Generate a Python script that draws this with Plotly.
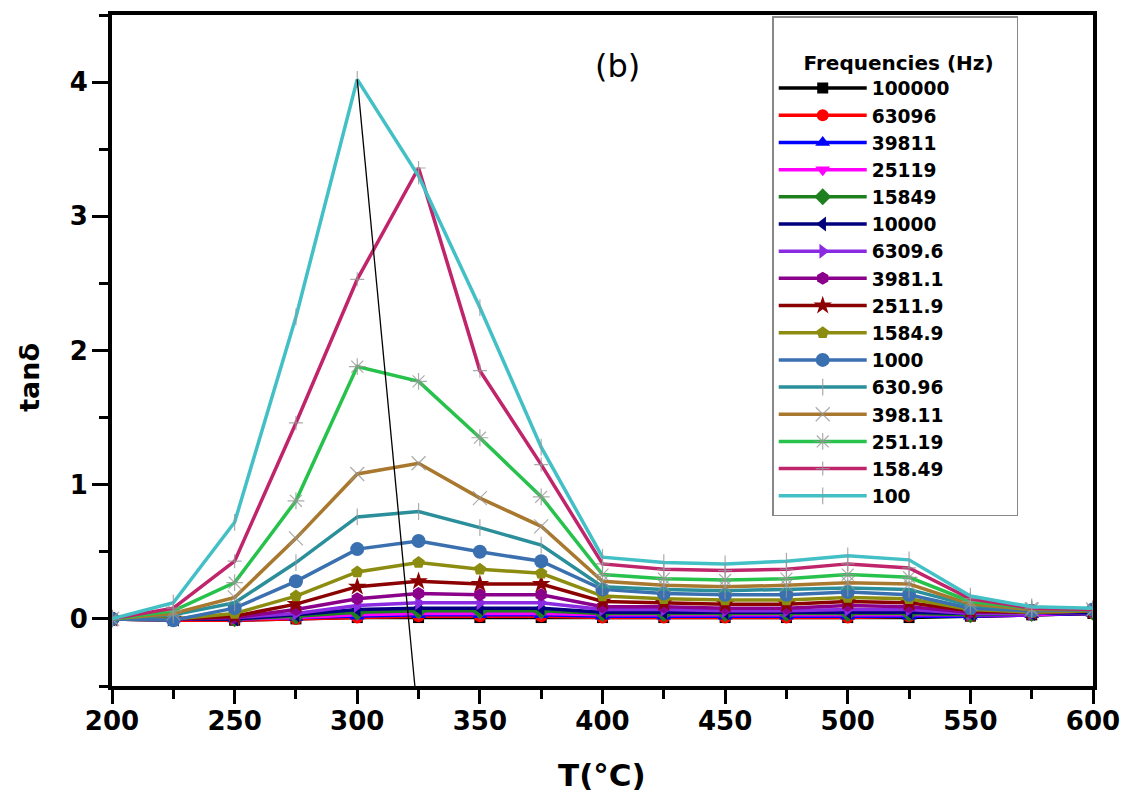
import plotly.graph_objects as go

temps = [200, 225, 250, 275, 300, 325, 350, 375, 400, 425, 450, 475, 500, 525, 550, 575, 600]

freq_labels = ["100000", "63096", "39811", "25119", "15849", "10000", "6309.6", "3981.1",
               "2511.9", "1584.9", "1000", "630.96", "398.11", "251.19", "158.49", "100"]

f100000 = [0, -0.01, -0.01, 0.0, 0.01, 0.01, 0.01, 0.01, 0.01, 0.01, 0.01, 0.01, 0.01, 0.01, 0.02, 0.03, 0.04]
f63096 = [0, -0.01, -0.01, 0.0, 0.01, 0.02, 0.02, 0.02, 0.01, 0.01, 0.01, 0.01, 0.01, 0.02, 0.02, 0.03, 0.04]
f39811 = [0, 0.0, 0.0, 0.01, 0.02, 0.03, 0.03, 0.03, 0.02, 0.02, 0.02, 0.02, 0.02, 0.02, 0.02, 0.03, 0.04]
f25119 = [0, 0.0, 0.0, 0.01, 0.03, 0.04, 0.04, 0.04, 0.03, 0.03, 0.03, 0.03, 0.03, 0.03, 0.03, 0.03, 0.05]
f15849 = [0, 0.0, 0.0, 0.02, 0.05, 0.06, 0.06, 0.06, 0.04, 0.04, 0.04, 0.04, 0.04, 0.04, 0.03, 0.04, 0.05]
f10000 = [0, 0.0, 0.0, 0.03, 0.07, 0.08, 0.08, 0.08, 0.05, 0.05, 0.05, 0.05, 0.05, 0.05, 0.04, 0.04, 0.05]
f6309 = [0, 0.0, 0.01, 0.04, 0.10, 0.12, 0.12, 0.12, 0.07, 0.07, 0.06, 0.06, 0.07, 0.07, 0.04, 0.04, 0.06]
f3981 = [0, 0.0, 0.01, 0.07, 0.15, 0.19, 0.18, 0.18, 0.09, 0.09, 0.08, 0.08, 0.10, 0.09, 0.05, 0.05, 0.06]
f2511 = [0, 0.0, 0.02, 0.11, 0.24, 0.28, 0.26, 0.26, 0.13, 0.12, 0.11, 0.11, 0.13, 0.12, 0.06, 0.05, 0.06]
f1584 = [0, 0.0, 0.04, 0.17, 0.35, 0.42, 0.37, 0.34, 0.17, 0.15, 0.14, 0.14, 0.16, 0.15, 0.07, 0.05, 0.06]
f1000 = [0, -0.01, 0.08, 0.28, 0.52, 0.58, 0.50, 0.43, 0.22, 0.19, 0.18, 0.18, 0.20, 0.18, 0.08, 0.06, 0.07]
f630 = [0, 0.03, 0.12, 0.42, 0.76, 0.80, 0.68, 0.55, 0.24, 0.22, 0.21, 0.22, 0.23, 0.22, 0.10, 0.07, 0.07]
f398 = [0, 0.04, 0.16, 0.60, 1.08, 1.16, 0.90, 0.69, 0.28, 0.25, 0.24, 0.25, 0.27, 0.26, 0.11, 0.07, 0.07]
f251 = [0, 0.06, 0.27, 0.88, 1.88, 1.77, 1.35, 0.91, 0.33, 0.30, 0.29, 0.30, 0.33, 0.31, 0.13, 0.08, 0.07]
f158 = [0, 0.08, 0.43, 1.46, 2.53, 3.36, 1.85, 1.15, 0.41, 0.37, 0.36, 0.37, 0.41, 0.38, 0.15, 0.08, 0.07]
f100 = [0, 0.12, 0.72, 2.25, 4.02, 3.30, 2.32, 1.28, 0.46, 0.42, 0.41, 0.43, 0.47, 0.44, 0.17, 0.09, 0.08]

series_values = [f100000, f63096, f39811, f25119, f15849, f10000, f6309, f3981,
                 f2511, f1584, f1000, f630, f398, f251, f158, f100]

colors = ["#000000", "#FF0000", "#0000FF", "#FF00FF", "#1E7F1E", "#00007F", "#8A2BE2", "#8B008B",
          "#8B0000", "#8C8C10", "#3A70B0", "#2A8F9A", "#A8782E", "#27C24C", "#C0246A", "#42C0C6"]
symbols = ["square", "circle", "triangle-up", "triangle-down", "diamond", "triangle-left",
           "triangle-right", "hexagon", "star", "pentagon", "circle", "line-ns",
           "x-thin", "asterisk", "cross-thin", "line-ns"]
marker_sizes = [11, 12, 13, 13, 13, 13, 13, 13, 14, 13, 14, 12, 14, 14, 10, 12]

# guide line (drawn through the peak positions)
guide_x = [300, 323.5]
guide_y = [4.02, -0.5]

FONT = "DejaVu Sans, Liberation Sans, sans-serif"

fig = go.Figure()
for name, vals, col, sym, ms in zip(freq_labels, series_values, colors, symbols, marker_sizes):
    thin = sym in ("line-ns", "x-thin", "asterisk", "cross-thin")
    fig.add_trace(go.Scatter(
        x=temps, y=vals, name=name, mode="lines+markers",
        line=dict(color=col, width=3.5),
        marker=dict(symbol=sym, size=ms, color=col,
                    line=dict(color=("rgba(150,150,150,0.8)" if thin else col), width=(1.2 if thin else 0))),
    ))

fig.add_trace(go.Scatter(x=guide_x, y=guide_y, mode="lines", showlegend=False,
                         line=dict(color="black", width=1.3), hoverinfo="skip"))

fig.update_layout(
    width=1133, height=799,
    margin=dict(l=112, r=40, t=11, b=113),
    paper_bgcolor="white", plot_bgcolor="white",
    font=dict(family=FONT, color="black"),
    showlegend=True,
    legend=dict(
        x=0.673, y=0.9985, xanchor="left", yanchor="top",
        bgcolor="white", bordercolor="#888888", borderwidth=1.5,
        font=dict(family=FONT, size=18.6, weight="bold", color="black"),
        title=dict(text="<br>&nbsp;&nbsp;&nbsp;&nbsp;Frequencies (Hz)&nbsp;&nbsp;&nbsp;",
                   font=dict(family=FONT, size=20, weight="bold")),
        itemwidth=88, tracegroupgap=0,
    ),
    annotations=[
        dict(text="(b)", x=0.515, y=0.9244, xref="paper", yref="paper", xanchor="center", yanchor="middle",
             showarrow=False, font=dict(family=FONT, size=32, color="black")),
        dict(text="<b>T(°C)</b>", x=0.4995, y=-0.1319, xref="paper", yref="paper",
             xanchor="center", yanchor="middle", showarrow=False,
             font=dict(family=FONT, size=31, color="black")),
        dict(text="<b>tanδ</b>", x=-0.0836, y=0.4607, xref="paper", yref="paper", textangle=-90,
             xanchor="center", yanchor="middle", showarrow=False,
             font=dict(family=FONT, size=27, color="black")),
    ],
)

fig.update_xaxes(
    range=[200, 600], tickmode="array", tickvals=[200, 250, 300, 350, 400, 450, 500, 550, 600],
    ticks="outside", ticklen=14, tickwidth=3, tickcolor="black",
    minor=dict(tickvals=[225, 275, 325, 375, 425, 475, 525, 575], ticks="outside", ticklen=9, tickwidth=3, tickcolor="black"),
    showline=True, linewidth=4, linecolor="black", mirror=True, showgrid=False, zeroline=False,
    tickfont=dict(family=FONT, size=26, weight="bold"), ticklabelstandoff=-5,
)
fig.update_yaxes(
    range=[-0.5, 4.5], tickmode="array", tickvals=[0, 1, 2, 3, 4],
    ticks="outside", ticklen=16, tickwidth=3, tickcolor="black",
    minor=dict(tickvals=[-0.5, 0.5, 1.5, 2.5, 3.5, 4.5], ticks="outside", ticklen=9, tickwidth=3, tickcolor="black"),
    showline=True, linewidth=4, linecolor="black", mirror=True, showgrid=False, zeroline=False,
    tickfont=dict(family=FONT, size=26, weight="bold"), ticklabelstandoff=-1,
)

fig.write_html("out.html")
